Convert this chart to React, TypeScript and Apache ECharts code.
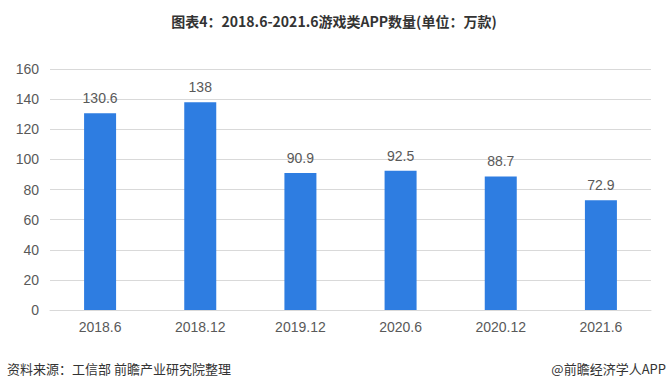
import React, { useEffect, useRef } from "react";
import * as echarts from "echarts";

const categories = ["2018.6", "2018.12", "2019.12", "2020.6", "2020.12", "2021.6"];
const values = [130.6, 138, 90.9, 92.5, 88.7, 72.9];
const titleText = "图表4：2018.6-2021.6游戏类APP数量(单位：万款)";
const sourceText = "资料来源：工信部 前瞻产业研究院整理";
const brandText = "@前瞻经济学人APP";

export default function App() {
  const ref = useRef<HTMLDivElement>(null);
  useEffect(() => {
    if (!ref.current) return;
    const chart = echarts.init(ref.current, null, { renderer: "svg" });
    const font = "'Liberation Sans', 'Noto Sans CJK SC', sans-serif";
    chart.setOption({
      animation: false,
      backgroundColor: "#ffffff",
      title: {
        text: titleText,
        left: "center",
        top: 9,
        textStyle: { fontSize: 14, fontWeight: "bold", color: "#333333", fontFamily: "'Noto Sans CJK SC', sans-serif" },
      },
      grid: { left: 50, right: 17, top: 69, bottom: 82 },
      xAxis: {
        type: "category",
        data: categories,
        axisLine: { lineStyle: { color: "#d9d9d9" } },
        axisTick: { show: false },
        axisLabel: { color: "#595959", fontSize: 14, fontFamily: font, margin: 10 },
      },
      yAxis: {
        type: "value",
        min: 0,
        max: 160,
        interval: 20,
        axisLine: { show: false },
        axisTick: { show: false },
        splitLine: { lineStyle: { color: "#d9d9d9" } },
        axisLabel: { color: "#595959", fontSize: 14, fontFamily: font, margin: 11 },
      },
      series: [
        {
          type: "bar",
          data: values,
          barWidth: 32,
          itemStyle: { color: "#2E7DE1" },
          label: { show: true, position: "top", color: "#595959", fontSize: 14, fontFamily: font, distance: 8 },
        },
      ],
      graphic: [
        {
          type: "text",
          left: 7,
          top: 362,
          style: { text: sourceText, fill: "#333333", fontSize: 13, fontFamily: "'Noto Sans CJK SC', sans-serif" },
        },
        {
          type: "text",
          right: 2,
          top: 362,
          style: { text: brandText, fill: "#333333", fontSize: 13, fontFamily: "'Noto Sans CJK SC', sans-serif" },
        },
      ],
    });
    return () => chart.dispose();
  }, []);
  return <div ref={ref} style={{ width: 668, height: 392, position: "absolute", left: 0, top: 0 }} />;
}
